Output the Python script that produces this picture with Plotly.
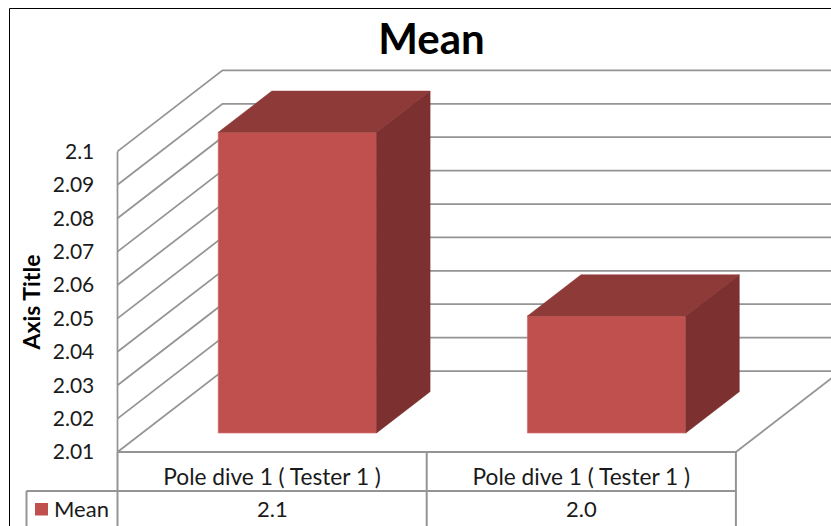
import plotly.graph_objects as go

# ---- data ----
title = "Mean"
series_name = "Mean"
categories = ["Pole dive 1 ( Tester 1 )", "Pole dive 1 ( Tester 1 )"]
values = [2.1, 2.045]
table_labels = ["2.1", "2.0"]
y_ticks = [2.01, 2.02, 2.03, 2.04, 2.05, 2.06, 2.07, 2.08, 2.09, 2.1]
y_tick_labels = ["2.01", "2.02", "2.03", "2.04", "2.05", "2.06", "2.07", "2.08", "2.09", "2.1"]

# ---- canvas and oblique projection ----
W, H = 831, 526
X0_PX, FLOOR_PX = 117.5, 452.0     # front-left floor corner
CAT_PX, TICK_PX = 309.2, 33.4      # pixels per category / per 0.01
DEPTH_PX = (105.0, -81.0)          # wall depth in px
x_range = [-X0_PX / CAT_PX, (W - X0_PX) / CAT_PX]
floor_v = y_ticks[0]
y_range = [floor_v - (H - FLOOR_PX) / TICK_PX * 0.01, floor_v + FLOOR_PX / TICK_PX * 0.01]
dx = DEPTH_PX[0] / CAT_PX
dy = -DEPTH_PX[1] / TICK_PX * 0.01
D_FRONT, D_BACK = 0.235, 0.745     # bar depth range as fraction of the wall depth
BAR_W = 0.512
BAR_SHIFT = 0.002

GRID = "#949494"
FRONT, TOP, SIDE = "#C0504D", "#8E3A38", "#7C302F"
FONT = "Lato"
TXT = "#1a1a1a"


def proj(x, v, d):
    return x + d * dx, v + d * dy


def seg(x0, y0, x1, y1, xref="x", yref="y", color=GRID, width=1.75):
    return dict(type="line", xref=xref, yref=yref, x0=x0, y0=y0, x1=x1, y1=y1,
                layer="below", line=dict(color=color, width=width))


shapes = []
n = len(categories)
far_right = n + 1
# side wall and back wall grid
for t in y_ticks:
    bx, by = proj(0, t, 1)
    shapes.append(dict(type="path", xref="x", yref="y", layer="below",
                       path=f"M 0 {t} L {bx} {by} L {far_right} {by}",
                       line=dict(color=GRID, width=1.75)))
shapes.append(seg(0, y_ticks[0], 0, y_ticks[-1]))
# floor
fx, fy = proj(n, floor_v, 1)
shapes.append(seg(0, floor_v, n, floor_v, width=2))
shapes.append(seg(n, floor_v, fx, fy))

# data table
row1 = 1 - 491 / H
for i in range(n + 1):
    shapes.append(dict(type="line", xref="x", yref="paper", x0=i, x1=i, y0=0, y1=1 - FLOOR_PX / H,
                       layer="below", line=dict(color=GRID, width=2)))
shapes.append(dict(type="line", xref="paper", yref="paper", x0=26.5 / W, x1=(X0_PX + n * CAT_PX) / W,
                   y0=row1, y1=row1, layer="below", line=dict(color=GRID, width=2)))
shapes.append(dict(type="line", xref="paper", yref="paper", x0=26.5 / W, x1=26.5 / W, y0=0, y1=row1,
                   layer="below", line=dict(color=GRID, width=2)))
# outer chart frame
shapes.append(dict(type="line", xref="paper", yref="paper", x0=9.5 / W, x1=9.5 / W, y0=0, y1=1 - 8.5 / H,
                   layer="below", line=dict(color="#000000", width=1)))
shapes.append(dict(type="line", xref="paper", yref="paper", x0=9.5 / W, x1=1, y0=1 - 8.5 / H, y1=1 - 8.5 / H,
                   layer="below", line=dict(color="#000000", width=1)))

fig = go.Figure()

centers = [i + 0.5 for i in range(n)]
bar_centers = [c + BAR_SHIFT for c in centers]
front_x = [proj(c, floor_v, D_FRONT)[0] for c in bar_centers]
base_v = proj(0, floor_v, D_FRONT)[1]
fig.add_bar(x=front_x, y=[v - floor_v for v in values], base=base_v, width=BAR_W,
            name=series_name, showlegend=False,
            marker=dict(color=FRONT, line=dict(color="#CB6F6C", width=0.75)))

for c, v in zip(bar_centers, values):
    l, r = c - BAR_W / 2, c + BAR_W / 2
    corners_top = [proj(l, v, D_FRONT), proj(r, v, D_FRONT), proj(r, v, D_BACK), proj(l, v, D_BACK)]
    corners_side = [proj(r, floor_v, D_FRONT), proj(r, floor_v, D_BACK), proj(r, v, D_BACK), proj(r, v, D_FRONT)]
    for pts, col in ((corners_top, TOP), (corners_side, SIDE)):
        fig.add_scatter(x=[p[0] for p in pts] + [pts[0][0]], y=[p[1] for p in pts] + [pts[0][1]],
                        mode="lines", fill="toself", fillcolor=col, line=dict(color=col, width=0.5),
                        showlegend=False, hoverinfo="skip")

annotations = [
    dict(text="<b>Axis Title</b>", textangle=-90, xref="paper", yref="paper", x=30 / W, y=1 - 302.5 / H,
         xanchor="center", yanchor="middle",
         showarrow=False, font=dict(family=FONT, size=23, color="#000000")),
    dict(text=series_name, xref="paper", yref="paper", x=51.5 / W, y=1 - 508.5 / H, xanchor="left", yanchor="middle",
         showarrow=False, font=dict(family=FONT, size=22, color=TXT)),
]
for c, lab in zip(centers, table_labels):
    annotations.append(dict(text=lab, xref="x", yref="paper", x=c, y=1 - 508.5 / H, showarrow=False,
                            xanchor="center", yanchor="middle",
                            font=dict(family=FONT, size=22, color=TXT)))
shapes.append(dict(type="rect", xref="paper", yref="paper", x0=35 / W, x1=48 / W,
                   y0=1 - 515.5 / H, y1=1 - 503 / H, fillcolor=FRONT, line=dict(width=0), layer="above"))

fig.update_layout(
    width=W, height=H, autosize=False,
    margin=dict(l=0, r=0, t=0, b=0, pad=0),
    paper_bgcolor="white", plot_bgcolor="white",
    title=dict(text=f"<b>{title}</b>", x=431.5 / W, xanchor="center", y=1 - 39 / H, yanchor="middle",
               font=dict(family=FONT, size=42, color="#000000")),
    xaxis=dict(range=x_range, showgrid=False, zeroline=False, showline=False,
               tickmode="array", tickvals=centers, ticktext=categories,
               anchor="free", position=1 - FLOOR_PX / H, side="bottom",
               ticks="outside", ticklen=5, tickcolor="rgba(0,0,0,0)",
               tickfont=dict(family=FONT, size=22.7, color=TXT), fixedrange=True),
    yaxis=dict(range=y_range, showgrid=False, zeroline=False, showline=False,
               tickmode="array", tickvals=y_ticks, ticktext=y_tick_labels,
               anchor="free", position=X0_PX / W, side="left",
               ticks="outside", ticklen=19, tickcolor="rgba(0,0,0,0)",
               tickfont=dict(family=FONT, size=21, color=TXT), fixedrange=True),
    shapes=shapes, annotations=annotations, showlegend=False,
)

fig.write_html("out.html", config=dict(displayModeBar=False),
               post_script="document.body.style.margin='0';document.body.style.overflow='hidden';")
